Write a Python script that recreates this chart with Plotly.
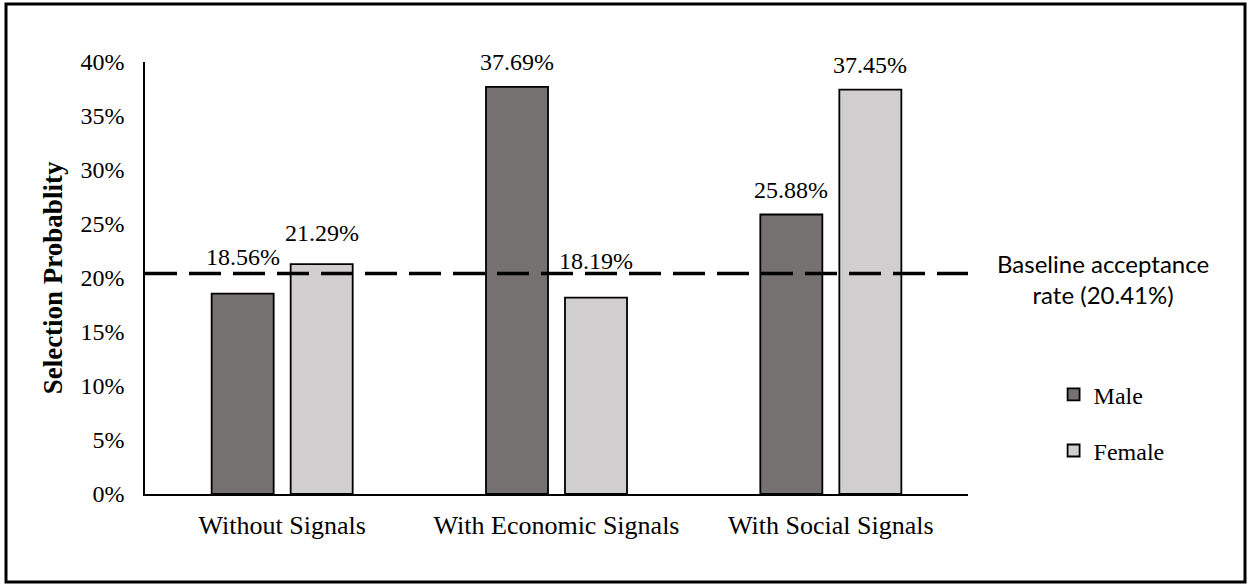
import plotly.graph_objects as go

# Selection probability by signal condition and gender
categories = ["Without Signals", "With Economic Signals", "With Social Signals"]
male = [0.1856, 0.3769, 0.2588]
female = [0.2129, 0.1819, 0.3745]
baseline = 0.2041
baseline_label = "Baseline acceptance rate (20.41%)"
y_ticks = [0, 0.05, 0.10, 0.15, 0.20, 0.25, 0.30, 0.35, 0.40]
y_tick_text = ["0%", "5%", "10%", "15%", "20%", "25%", "30%", "35%", "40%"]

SERIF = "Liberation Serif"
SANS = "Lato"
BLACK = "#000000"

fig = go.Figure()
fig.add_trace(go.Bar(
    name="Male", x=categories, y=male, legendgroup="m",
    marker=dict(color="#767171", line=dict(color=BLACK, width=1.8)),
))
fig.add_trace(go.Bar(
    name="Female", x=categories, y=female, legendgroup="f",
    marker=dict(color="#D0CECE", line=dict(color=BLACK, width=1.8)),
))

# Value labels above each bar; labels that would touch the baseline are lifted a bit more
half_slot = 39.5
for series, side in ((male, -1), (female, 1)):
    for cat, v in zip(categories, series):
        near_line = abs(v - baseline) < 0.025
        lift = 37 if v < baseline and near_line else (31 if near_line else 25)
        fig.add_annotation(x=cat, y=v, xref="x", yref="y", text=f"{v*100:.2f}%",
                           showarrow=False, xshift=side * half_slot, yshift=lift,
                           xanchor="center", yanchor="middle",
                           font=dict(family=SERIF, size=24, color=BLACK))

# Baseline dashed line across the plot area
fig.add_shape(type="line", xref="paper", yref="y", x0=0, x1=1,
              y0=baseline, y1=baseline,
              line=dict(color=BLACK, width=3.5, dash="32px,12px"))

fig.add_annotation(xref="paper", yref="y", x=1.164, y=baseline, yshift=-5,
                   text=baseline_label.replace(" rate", "<br>rate"),
                   showarrow=False, align="center", xanchor="center", yanchor="middle",
                   font=dict(family=SANS, size=24, color=BLACK))

# Outer frame around the whole chart
plot_l, plot_r, plot_t, plot_b = 145, 968, 62, 494
pw, ph = plot_r - plot_l, plot_b - plot_t
fig.add_shape(type="rect", xref="paper", yref="paper",
              x0=(6 - plot_l) / pw, x1=(1245 - plot_l) / pw,
              y0=(plot_b - 582) / ph, y1=(plot_b - 4) / ph,
              line=dict(color=BLACK, width=3))

fig.update_layout(
    width=1250, height=585,
    margin=dict(l=plot_l, r=1250 - plot_r, t=plot_t, b=585 - plot_b),
    paper_bgcolor="white", plot_bgcolor="white",
    barmode="group", bargap=0.424, bargroupgap=0.215,
    showlegend=True,
    legend=dict(x=1.104, y=0.165, xanchor="left", yanchor="middle",
                font=dict(family=SERIF, size=24, color=BLACK),
                itemwidth=30, tracegroupgap=22, traceorder="grouped",
                bgcolor="rgba(0,0,0,0)"),
    font=dict(family=SERIF, color=BLACK),
)
fig.update_xaxes(showline=True, linecolor=BLACK, linewidth=1.5,
                 ticks="", showgrid=False, ticklabelstandoff=7,
                 tickfont=dict(family=SERIF, size=26, color=BLACK))
fig.update_yaxes(range=[0, 0.40], tickvals=y_ticks, ticktext=y_tick_text,
                 showline=True, linecolor=BLACK, linewidth=1.5,
                 ticks="", showgrid=False, zeroline=False, ticklabelstandoff=14,
                 tickfont=dict(family=SERIF, size=24, color=BLACK),
                 title=dict(text="<b>Selection Probablity</b>", standoff=10,
                            font=dict(family=SERIF, size=27, color=BLACK)))

fig.write_html("out.html")
